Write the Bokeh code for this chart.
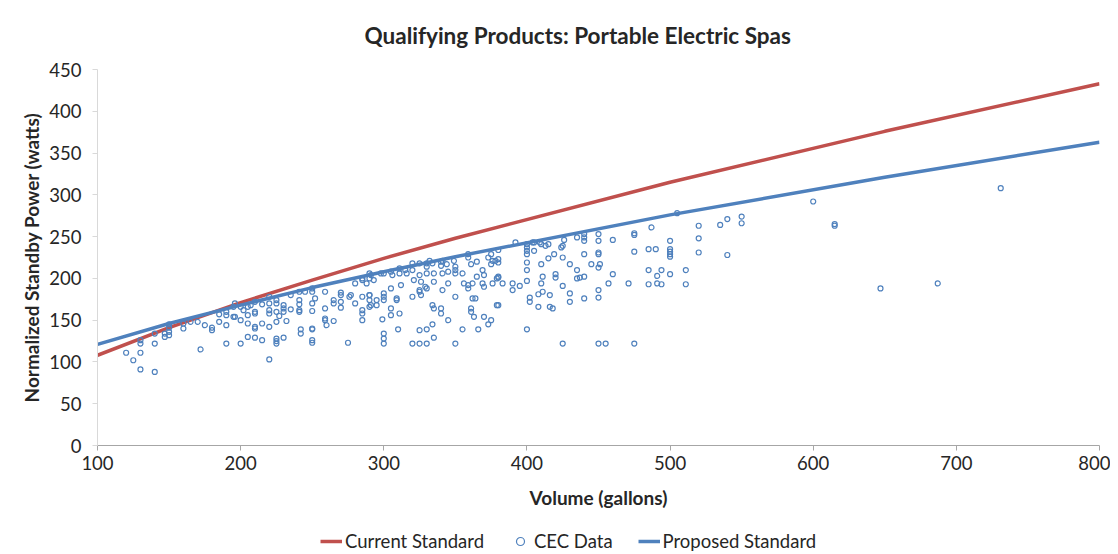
from bokeh.plotting import figure
from bokeh.layouts import column
from bokeh.models import Range1d, Legend, LegendItem, FixedTicker
from bokeh.embed import file_html
from bokeh.resources import INLINE

FONT = "Lato"

title_text = "Qualifying Products: Portable Electric Spas"
x_label = "Volume (gallons)"
y_label = "Normalized Standby Power (watts)"
x_ticks = [100, 200, 300, 400, 500, 600, 700, 800]
y_ticks = [0, 50, 100, 150, 200, 250, 300, 350, 400, 450]
legend_labels = ["Current Standard", "CEC Data", "Proposed Standard"]

# Standards
std_volume = [100, 150, 200, 250, 300, 350, 500, 650, 800]
current_standard = [108, 141, 171, 198, 224, 248, 315, 376, 433]
proposed_standard = [121, 146, 168, 189, 208, 226, 276, 321, 363]

# CEC data (volume in gallons, normalized standby power in watts)
cec_volume = [
    120, 125, 130, 130, 130, 130, 140, 140, 140, 147, 147, 150, 150, 150, 150,
    160, 160, 165, 170, 172, 175, 180, 180, 185, 185, 190, 190, 190, 190, 195, 195,
    196, 200, 202, 205, 207, 210, 215, 220, 220, 225, 225, 230, 235, 241, 241, 241,
    245, 250, 250, 250, 252, 259, 265, 265, 270, 270, 270, 270, 276, 277, 280, 280,
    285, 285, 285, 290, 290,
    196, 200, 205, 205, 210, 210, 210, 210, 215, 220, 220, 220, 225, 225, 227, 230,
    230, 232, 235, 241, 241, 242, 242, 250, 250, 250, 259, 259, 259, 260, 265, 285,
    285, 285, 290,
    200, 205, 210, 215, 225, 225, 225, 230, 250, 250, 275, 220,
    290, 291, 293, 298, 300, 305, 306, 311, 311, 315, 316, 320, 320, 321, 325, 325,
    326, 330, 330, 330, 332, 334, 335, 335, 340, 340, 341, 341, 344, 345, 345, 349,
    350, 350, 350, 355, 356, 359, 359, 361, 362, 365, 365, 369, 370, 373, 375, 375,
    376, 378, 379, 380,
    288, 290, 290, 291, 295, 295, 300, 300, 300, 305, 309, 309, 305, 305, 311, 312,
    320, 325, 325, 326, 329, 330, 334, 335, 340, 340, 341, 345, 350, 359, 359, 361,
    361, 362, 363, 364, 369, 370, 370, 375, 376, 379,
    299, 300, 300, 300, 310, 320, 325, 325, 330, 330, 334, 335, 350, 355, 366, 373,
    380, 380, 380, 380, 380, 383, 390, 390, 392, 395, 400, 400, 400, 400, 400, 400,
    400, 400, 402, 402, 404, 405, 405, 408, 408, 409, 410, 410, 410, 411, 411, 413,
    415, 415, 416, 416, 418, 419, 420, 420, 424, 425, 425, 425, 425, 426, 430, 430,
    430, 435, 435, 435, 437, 440, 440, 440, 440, 440, 440, 445, 450, 450, 450, 450,
    450, 450, 450, 450, 451, 455, 457, 460, 460, 471,
    475, 475, 475, 475, 485, 485, 485, 487, 490, 491, 491, 494, 494, 500, 500, 500,
    500, 500, 500, 505, 511, 511, 520, 520, 520, 535, 540, 540, 550, 550,
    600, 615, 615, 647, 687, 731,
]
cec_power = [
    111, 102, 122, 126, 111, 91, 122, 88, 134, 130, 134, 132, 136, 141, 145,
    140, 146, 148, 148, 115, 144, 141, 138, 157, 148, 160, 156, 144, 122, 166, 154,
    170, 166, 162, 166, 168, 172, 169, 178, 170, 174, 170, 168, 180, 174, 169, 184,
    184, 184, 188, 170, 176, 184, 174, 170, 183, 180, 172, 165, 178, 180, 194, 170,
    178, 200, 198, 180, 200,
    154, 150, 156, 146, 160, 158, 142, 140, 146, 162, 158, 142, 160, 148, 155, 164,
    160, 149, 163, 162, 160, 139, 134, 161, 140, 139, 164, 152, 150, 144, 149, 162,
    158, 150, 166,
    122, 130, 129, 126, 128, 125, 122, 129, 126, 123, 123, 103,
    206, 204, 198, 206, 206, 208, 204, 212, 206, 210, 206, 218, 210, 198, 218, 204,
    196, 218, 214, 206, 221, 218, 206, 196, 220, 215, 221, 206, 217, 208, 194, 221,
    214, 206, 210, 206, 194, 229, 225, 217, 194, 220, 202, 210, 204, 225, 229, 217,
    221, 221, 200, 202,
    194, 180, 174, 168, 174, 168, 182, 178, 174, 188, 176, 174, 164, 156, 158, 192,
    178, 186, 184, 180, 190, 188, 168, 164, 164, 158, 186, 150, 178, 192, 188, 164,
    160, 176, 154, 176, 194, 190, 154, 150, 194, 168,
    151, 134, 128, 122, 139, 122, 138, 122, 139, 122, 145, 129, 122, 139, 139, 145,
    234, 223, 219, 201, 168, 194, 194, 186, 243, 191, 241, 237, 233, 229, 219, 210,
    197, 139, 177, 172, 243, 233, 243, 166, 181, 243, 241, 217, 194, 202, 184, 239,
    241, 224, 180, 166, 164, 229, 205, 201, 237, 239, 225, 191, 122, 246, 217, 182,
    172, 249, 210, 200, 201, 253, 249, 245, 229, 202, 176, 217, 253, 245, 231, 229,
    213, 186, 177, 122, 217, 122, 194, 246, 205, 194,
    254, 252, 232, 122, 235, 210, 193, 261, 235, 203, 194, 210, 193, 245, 235, 232,
    229, 226, 205, 278, 210, 193, 263, 248, 231, 264, 271, 228, 274, 266,
    292, 265, 263, 188, 194, 308,
]

RED = "#C0504D"
BLUE = "#4F81BD"
TEXT = "#262626"

p = figure(frame_width=1002, frame_height=376, output_backend="svg",
           toolbar_location=None,
           x_range=Range1d(100, 800), y_range=Range1d(0, 450),
           min_border_left=97, min_border_right=11, min_border_top=69,
           min_border_bottom=70)

p.title.text = title_text
p.title.align = "left"
p.title.vertical_align = "top"
p.title.offset = 267
p.title.standoff = 38
p.title.text_font = FONT
p.title.text_font_size = "22.5px"
p.title.text_font_style = "bold"
p.title.text_color = TEXT

p.xgrid.visible = False
p.ygrid.visible = False
p.outline_line_color = None
p.background_fill_color = "white"
p.border_fill_color = "white"

for ax in (p.xaxis[0], p.yaxis[0]):
    ax.major_tick_in = 0
    ax.major_tick_out = 5
    ax.minor_tick_line_color = None
    ax.major_label_text_font = FONT
    ax.major_label_text_font_size = "18.5px"
    ax.major_label_text_color = TEXT
    ax.axis_label_text_font = FONT
    ax.axis_label_text_font_size = "19px"
    ax.axis_label_text_font_style = "bold"
    ax.axis_label_text_color = TEXT

p.xaxis.ticker = FixedTicker(ticks=x_ticks)
p.yaxis.ticker = FixedTicker(ticks=y_ticks)
p.xaxis.axis_label = x_label
p.yaxis.axis_label = y_label
p.xaxis.axis_line_color = "#a6a6a6"
p.xaxis.major_tick_line_color = "#a6a6a6"
p.yaxis.axis_line_color = "#d9d9d9"
p.yaxis.major_tick_line_color = "#d9d9d9"
p.xaxis.major_label_standoff = 5
p.yaxis.major_label_standoff = 11
p.xaxis.axis_label_standoff = 13
p.yaxis.axis_label_standoff = 3

line_style = dict(line_width=3.5)
marker_style = dict(marker="circle", size=5, fill_color=None,
                    line_color=BLUE, line_width=1.2)

p.line(std_volume, current_standard, line_color=RED, **line_style)
p.scatter(cec_volume, cec_power, **marker_style)
p.line(std_volume, proposed_standard, line_color=BLUE, **line_style)

# Legend strip below the chart (its renderers fall outside its own ranges,
# so only the legend entries are visible)
q = figure(width=1102, height=39, output_backend="svg", toolbar_location=None,
           x_range=Range1d(0, 1), y_range=Range1d(0, 1),
           x_axis_type=None, y_axis_type=None, min_border=0)
q.xgrid.visible = False
q.ygrid.visible = False
q.outline_line_color = None
q.border_fill_color = "white"

l_cur = q.line(std_volume, current_standard, line_color=RED, **line_style)
l_cec = q.scatter(cec_volume, cec_power, **marker_style)
l_prop = q.line(std_volume, proposed_standard, line_color=BLUE, **line_style)

legend = Legend(items=[
    LegendItem(label=legend_labels[0], renderers=[l_cur]),
    LegendItem(label=legend_labels[1], renderers=[l_cec]),
    LegendItem(label=legend_labels[2], renderers=[l_prop]),
], orientation="horizontal", location=(223, 2))
legend.border_line_color = None
legend.background_fill_alpha = 0
legend.label_text_font = FONT
legend.label_text_font_size = "18.5px"
legend.label_text_color = TEXT
legend.glyph_width = 22
legend.label_standoff = 3
legend.spacing = 25
legend.margin = 0
legend.padding = 2
q.add_layout(legend)

layout = column(p, q, spacing=0)
open("out.html", "w").write(file_html(layout, INLINE))
